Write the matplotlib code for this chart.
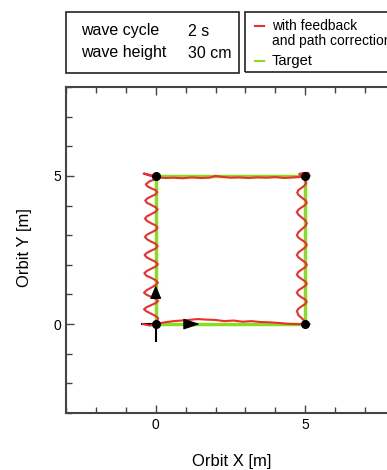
import matplotlib
matplotlib.use('Agg')
import matplotlib.pyplot as plt
from matplotlib.patches import Rectangle

plt.rcParams['font.family'] = ['Liberation Sans', 'DejaVu Sans']

# Sollbahn (Quadrat 5 m x 5 m)
target_x = [0, 5, 5, 0, 0]
target_y = [0, 0, 5, 5, 0]

# gemessene Bahn - unten (links -> rechts)
bottom_x = [-0.43, -0.2, 0.0, 0.3, 0.6, 1.0, 1.4, 1.7, 2.0, 2.3, 2.6, 2.9, 3.2, 3.5, 3.8, 4.1, 4.4, 4.7, 5.0, 5.15, 5.0]
bottom_y = [0.0, -0.05, 0.0, 0.06, 0.1, 0.13, 0.17, 0.15, 0.14, 0.1, 0.12, 0.08, 0.1, 0.07, 0.06, 0.04, 0.01, 0.0, 0.0, 0.0, 0.05]

# rechts (unten -> oben)
right_x = [4.98, 4.88, 4.77, 4.72, 4.77, 4.88, 5.0, 5.05, 5.0, 4.88, 4.77, 4.72, 4.77, 4.88, 5.0, 5.05,
           5.0, 4.88, 4.77, 4.72, 4.77, 4.88, 5.0, 5.05, 5.0, 4.88, 4.77, 4.72, 4.77, 4.88, 5.0, 5.05,
           5.0, 4.88, 4.77, 4.72, 4.77, 4.88, 5.0, 5.05, 5.0, 4.88, 4.77, 4.72, 4.77, 4.88, 5.0, 5.05,
           5.0, 4.88, 4.77, 4.73, 4.77, 4.88, 4.98, 5.03, 5.0, 5.0]
right_y = [0.10, 0.20, 0.30, 0.44, 0.52, 0.60, 0.68, 0.75, 0.83, 0.90, 0.98, 1.06, 1.14, 1.21, 1.29, 1.36,
           1.44, 1.52, 1.60, 1.67, 1.76, 1.84, 1.92, 2.00, 2.08, 2.17, 2.25, 2.33, 2.42, 2.50, 2.59, 2.67,
           2.76, 2.84, 2.92, 3.00, 3.10, 3.20, 3.30, 3.40, 3.50, 3.60, 3.69, 3.78, 3.86, 3.94, 4.02, 4.10,
           4.18, 4.27, 4.36, 4.44, 4.52, 4.60, 4.68, 4.75, 4.85, 4.95]

# Ecke oben rechts
corner_tr_x = [5.15, 5.1, 4.95, 4.8, 4.85]
corner_tr_y = [5.0, 5.1, 5.1, 5.07, 4.97]

# oben (rechts -> links)
top_x = [4.6, 4.3, 4.0, 3.7, 3.4, 3.1, 2.8, 2.5, 2.2, 2.0, 1.8, 1.5, 1.2, 0.9, 0.6, 0.3, 0.1]
top_y = [4.95, 4.93, 4.96, 4.94, 4.95, 4.93, 4.95, 4.94, 4.97, 5.0, 4.94, 4.93, 4.95, 4.92, 4.94, 4.93, 4.95]

# Ecke oben links
corner_tl_x = [-0.05, -0.4, -0.1, 0.02]
corner_tl_y = [5.0, 5.08, 4.98, 4.9]

# links (oben -> unten)
left_x = [-0.2, -0.33, -0.28, -0.15, 0.0, 0.05, 0.0, -0.15, -0.28, -0.35, -0.29, -0.15, 0.0, 0.06,
          0.0, -0.15, -0.29, -0.36, -0.29, -0.15, 0.0, 0.06, 0.0, -0.15, -0.29, -0.36, -0.29, -0.15,
          0.0, 0.06, 0.0, -0.15, -0.30, -0.37, -0.30, -0.15, 0.0, 0.07, 0.0, -0.15, -0.30, -0.38,
          -0.31, -0.15, 0.0, 0.07, 0.0, -0.15, -0.31, -0.39, -0.31, -0.15, 0.0, 0.08, 0.0, -0.15,
          -0.31, -0.39, -0.31, -0.15, 0.0, 0.08, 0.04, 0.0]
left_y = [4.82, 4.72, 4.65, 4.58, 4.52, 4.45, 4.38, 4.31, 4.24, 4.17, 4.09, 4.02, 3.94, 3.87,
          3.79, 3.71, 3.64, 3.56, 3.48, 3.40, 3.33, 3.25, 3.17, 3.09, 3.02, 2.94, 2.86, 2.78,
          2.71, 2.63, 2.55, 2.48, 2.40, 2.33, 2.25, 2.17, 2.10, 2.02, 1.94, 1.87, 1.79, 1.72,
          1.63, 1.56, 1.48, 1.40, 1.32, 1.23, 1.14, 1.06, 0.99, 0.92, 0.85, 0.78, 0.71, 0.64,
          0.57, 0.50, 0.43, 0.35, 0.27, 0.20, 0.12, 0.05]

path_x = bottom_x + right_x + corner_tr_x + top_x + corner_tl_x + left_x
path_y = bottom_y + right_y + corner_tr_y + top_y + corner_tl_y + left_y

corner_px = [0, 5, 5, 0]
corner_py = [0, 0, 5, 5]

fig = plt.figure(figsize=(3.87, 4.70), dpi=100)
ax = fig.add_axes([66/387, 57/470, 329/387, 326/470])

ax.plot(target_x, target_y, color='#88dd22', lw=2.5, zorder=2)
ax.plot([0, 0], [-0.57, 0], color='black', lw=1.5, zorder=1)
ax.plot([-0.45, 0], [0, 0], color='black', lw=1.5, zorder=1)
ax.plot(path_x, path_y, color='#ee2e2e', lw=1.5, zorder=3, solid_joinstyle='round')
ax.plot(corner_px, corner_py, 'o', color='black', ms=5.5, zorder=5)

# Pfeile am Startpunkt
ax.annotate('', xy=(1.57, 0), xytext=(1.1, 0),
            arrowprops=dict(arrowstyle='-|>,head_length=0.45,head_width=0.15', color='black', lw=1, mutation_scale=22), zorder=6)
ax.annotate('', xy=(0, 1.4), xytext=(0, 1.05),
            arrowprops=dict(arrowstyle='-|>,head_length=0.4,head_width=0.17', color='black', lw=1, mutation_scale=20), zorder=6)

ax.set_xlim(-3, 8)
ax.set_ylim(-3, 8)
ax.set_xticks([0, 5])
ax.set_yticks([0, 5])
ax.set_xticks(range(-3, 9), minor=True)
ax.set_yticks(range(-3, 9), minor=True)
ax.tick_params(which='both', direction='in', top=True, right=True, color='#444444', labelsize=10)
ax.tick_params(which='major', length=6, width=1)
ax.tick_params(which='minor', length=4, width=1)
for s in ax.spines.values():
    s.set_color('#444444')
    s.set_linewidth(1.5)
ax.set_xlabel('Orbit X [m]', fontsize=12, va='center')
ax.xaxis.set_label_coords(0.505, -0.150)
ax.set_ylabel('Orbit Y [m]', fontsize=12, va='center')
ax.yaxis.set_label_coords(-0.125, 0.506)

# Kasten mit Wellenparametern
W, H = 387, 470
fig.patches.append(Rectangle((66/W, 1 - 73/H), (239-66)/W, 61/H, transform=fig.transFigure,
                             fill=False, edgecolor='#222222', lw=1.2))
fig.text(81/W, 1 - 31/H, 'wave cycle', fontsize=11.5, va='center')
fig.text(188/W, 1 - 31/H, '2 s', fontsize=11.5, va='center')
fig.text(81/W, 1 - 53/H, 'wave height', fontsize=11.5, va='center')
fig.text(188/W, 1 - 53/H, '30 cm', fontsize=11.5, va='center')

# Legende
fig.patches.append(Rectangle((245/W, 1 - 72/H), 200/W, 60/H, transform=fig.transFigure,
                             fill=False, edgecolor='#222222', lw=1.2))
fig.lines.append(plt.Line2D([255/W, 264/W], [1 - 26/H, 1 - 26/H], transform=fig.transFigure,
                            color='#ee2e2e', lw=1.5))
fig.lines.append(plt.Line2D([255/W, 264/W], [1 - 61/H, 1 - 61/H], transform=fig.transFigure,
                            color='#88dd22', lw=1.5))
fig.text(272/W, 1 - 26/H, 'with feedback', fontsize=10, va='center')
fig.text(272/W, 1 - 41/H, 'and path correction', fontsize=10, va='center')
fig.text(272/W, 1 - 61/H, 'Target', fontsize=10.5, va='center')

fig.savefig('out.png', dpi=100)
